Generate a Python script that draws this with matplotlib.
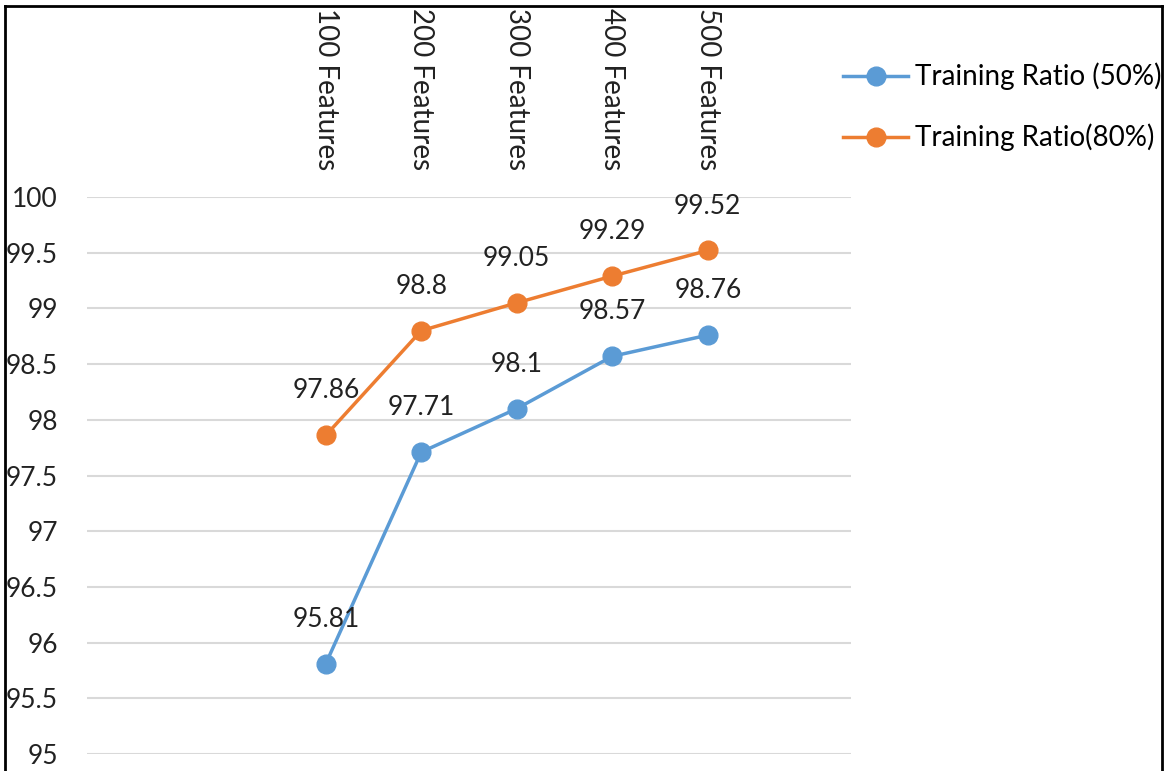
import matplotlib.pyplot as plt
import matplotlib.transforms as mtransforms
from matplotlib.lines import Line2D

plt.rcParams['font.family'] = ['Lato', 'DejaVu Sans']

# Data
categories = ['100 Features', '200 Features', '300 Features', '400 Features', '500 Features']
ratio_50 = [95.81, 97.71, 98.10, 98.57, 98.76]
ratio_80 = [97.86, 98.80, 99.05, 99.29, 99.52]
y_ticks = [95, 95.5, 96, 96.5, 97, 97.5, 98, 98.5, 99, 99.5, 100]
y_tick_labels = ['95', '95.5', '96', '96.5', '97', '97.5', '98', '98.5', '99', '99.5', '100']

blue = '#5B9BD5'
orange = '#ED7D31'
fs = 19
fs_big = 20

fig = plt.figure(figsize=(11.66, 7.71), dpi=100)
ax = fig.add_axes([87 / 1166, 1 - 754 / 771, (851 - 87) / 1166, (754 - 197) / 771])

x = list(range(len(categories)))
ax.plot(x, ratio_50, color=blue, lw=2.5, marker='o', ms=13.5, label='Training Ratio (50%)', zorder=3)
ax.plot(x, ratio_80, color=orange, lw=2.5, marker='o', ms=13.5, label='Training Ratio(80%)', zorder=3)

# value labels above each point
for xi, v in zip(x, ratio_50):
    ax.annotate(f'{v:g}', (xi, v), xytext=(0, 32), textcoords='offset points',
                ha='center', va='center', fontsize=fs, color='#222222')
for xi, v in zip(x, ratio_80):
    ax.annotate(f'{v:g}', (xi, v), xytext=(0, 32), textcoords='offset points',
                ha='center', va='center', fontsize=fs, color='#222222')

ax.set_xlim(-2.5, 5.5)
ax.set_ylim(95, 100)
ax.set_yticks(y_ticks)
ax.set_yticklabels(y_tick_labels, fontsize=fs, color='#222222')
ax.tick_params(axis='y', length=0, pad=21)
ax.set_xticks([])
ax.grid(axis='y', color='#D9D9D9', lw=1.5)
ax.set_axisbelow(True)
for s in ax.spines.values():
    s.set_visible(False)

# category labels written vertically above the plot
trans = mtransforms.blended_transform_factory(ax.transData, fig.transFigure)
for xi, lab in zip(x, categories):
    ax.text(xi, 1 - 8 / 771, lab, rotation=-90, ha='center', va='top',
            fontsize=fs_big, color='#222222', transform=trans)

fig.legend(loc='center left', bbox_to_anchor=(843 / 1166, 1 - 107 / 771),
           frameon=False, fontsize=fs_big, handlelength=2.35, handletextpad=0.25,
           labelspacing=1.2, borderpad=0, borderaxespad=0)

# outer frame
frame_kw = dict(color='black', lw=2, transform=fig.transFigure)
fig.add_artist(Line2D([5 / 1166, 5 / 1166], [0, 1 - 6 / 771], **frame_kw))
fig.add_artist(Line2D([1162 / 1166, 1162 / 1166], [0, 1 - 6 / 771], **frame_kw))
fig.add_artist(Line2D([5 / 1166, 1162 / 1166], [1 - 6 / 771, 1 - 6 / 771], **frame_kw))

fig.savefig('out.png', dpi=100)
